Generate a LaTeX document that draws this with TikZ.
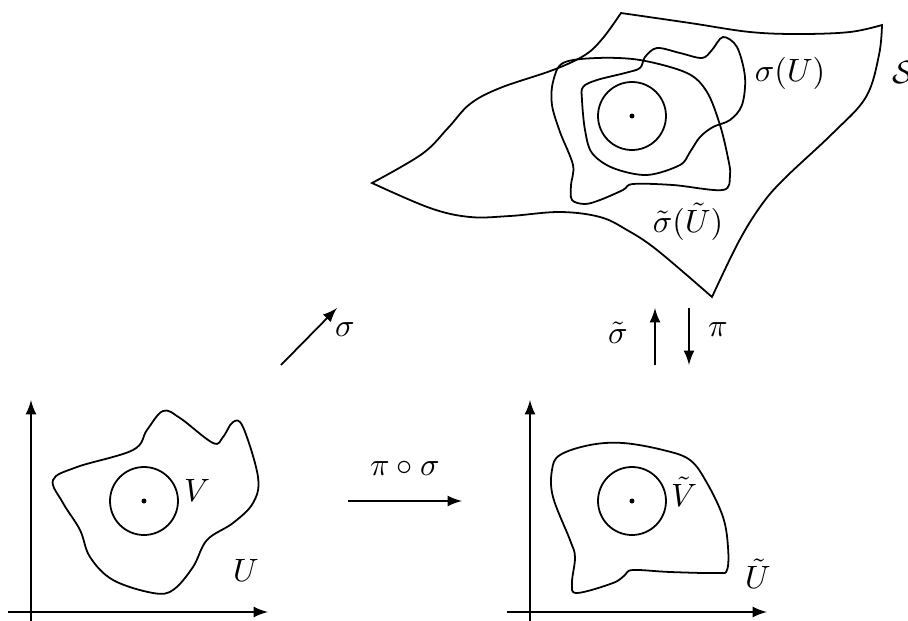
\documentclass[tikz,border=0pt]{standalone}
\begin{document}
\begin{tikzpicture}[x=0.31pt,y=-0.31pt,line width=0.55pt,>=latex,every node/.style={inner sep=0}]
\useasboundingbox (0,0) rectangle (908,621);
% surface S
\draw plot[smooth,tension=0.6] coordinates {(372,183) (422,154) (448,128) (470,104) (500,88) (553,70) (585,55) (603,38) (621,13)}
 -- plot[smooth,tension=0.6] coordinates {(621,13) (690,23) (750,32) (800,34) (850,32) (882,25)}
 -- plot[smooth,tension=0.6] coordinates {(882,25) (879,55) (866,97) (833,133) (783,180) (760,207) (738,243) (712,297)}
 -- plot[smooth,tension=0.6] coordinates {(712,297) (657,250) (627,230) (600,217) (560,212) (510,216) (470,217) (430,208) (372,183)} -- cycle;
\draw plot[smooth cycle,tension=0.55] coordinates {(745,77) (742,105) (730,120) (713,127) (700,137) (690,152) (680,165) (647,175) (613,168) (592,153) (585,130) (582,100) (583,87) (597,80) (625,73) (640,68) (645,57) (657,48) (680,53) (702,58) (712,50) (723,37) (737,47)};
\draw plot[smooth cycle,tension=0.55] coordinates {(563,63) (597,58) (640,60) (687,73) (707,92) (720,125) (728,158) (730,175) (723,190) (673,185) (633,184) (623,190) (600,200) (585,204) (572,200) (571,185) (573,165) (560,132) (552,105) (553,82)};
\coordinate (cs) at (632,116);
\draw (cs) circle (34); \fill (cs) circle (2.5);
\node (sU) at (790,73) {$\sigma(U)$};
\node (stU) at (688,222) {$\tilde\sigma(\tilde U)$};
\node[anchor=west] (S) at (892,72) {$\mathcal{S}$};
% maps
\coordinate (s0) at (281,365); \coordinate (s1) at (337,308);
\draw[->] (s0) -- (s1); \node (sig) at (345,330) {$\sigma$};
\coordinate (t0) at (655,365); \coordinate (t1) at (655,308);
\draw[->] (t0) -- (t1); \node (tsig) at (618,333) {$\tilde\sigma$};
\coordinate (p0) at (689,308); \coordinate (p1) at (689,365);
\draw[->] (p0) -- (p1); \node (pi) at (718,330) {$\pi$};
\coordinate (c0) at (348,501); \coordinate (c1) at (462,501);
\draw[->] (c0) -- (c1); \node (pis) at (405,468) {$\pi\circ\sigma$};
% left chart
\coordinate (ly0) at (31,621); \coordinate (ly1) at (31,400);
\coordinate (lx0) at (8,612); \coordinate (lx1) at (268,612);
\draw[->] (ly0) -- (ly1); \draw[->] (lx0) -- (lx1);
\draw plot[smooth cycle,tension=0.6] coordinates {(53,480) (77,467) (133,450) (147,430) (163,411) (180,418) (213,443) (223,437) (233,422) (243,427) (258,477) (253,503) (233,523) (207,540) (193,567) (173,590) (153,593) (113,580) (90,557) (80,530) (63,503)};
\coordinate (cl) at (144,501);
\draw (cl) circle (34); \fill (cl) circle (2.5);
\node (V) at (197,490) {$V$};
\node (U) at (246,570) {$U$};
% right chart
\coordinate (ry0) at (530,621); \coordinate (ry1) at (530,400);
\coordinate (rx0) at (507,612); \coordinate (rx1) at (767,612);
\draw[->] (ry0) -- (ry1); \draw[->] (rx0) -- (rx1);
\draw plot[smooth cycle,tension=0.6] coordinates {(552,470) (560,455) (590,445) (623,443) (663,450) (690,460) (707,483) (723,517) (728,547) (727,570) (717,573) (670,572) (633,570) (625,575) (613,583) (577,593) (572,583) (575,557) (570,540) (553,497)};
\coordinate (cr) at (632,501);
\draw (cr) circle (34); \fill (cr) circle (2.5);
\node (tV) at (684,492) {$\tilde V$};
\node (tU) at (758,574) {$\tilde U$};
\end{tikzpicture}
\end{document}
